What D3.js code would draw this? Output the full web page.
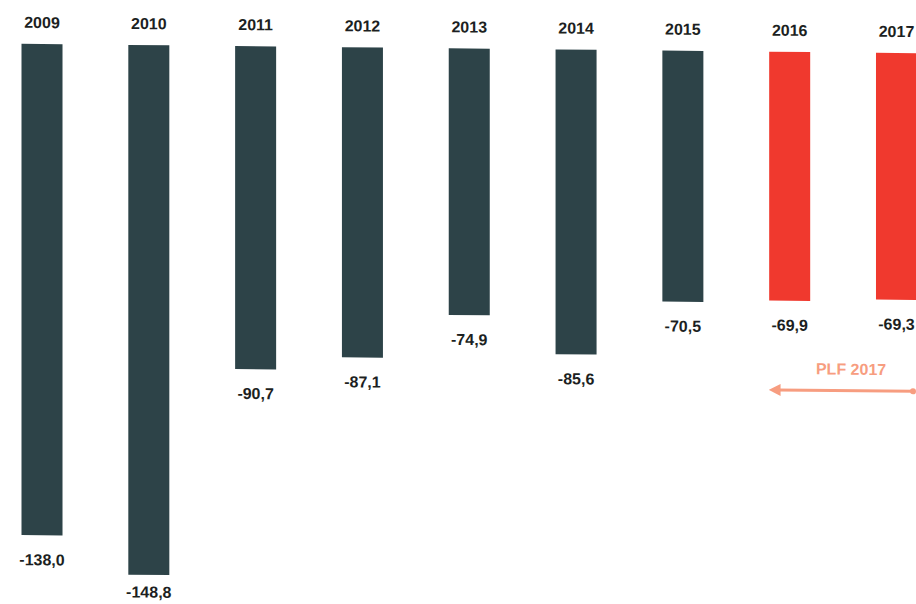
<!DOCTYPE html>
<html>
<head>
<meta charset="utf-8">
<script src="https://cdn.jsdelivr.net/npm/d3@7"></script>
<style>
  html, body { margin: 0; padding: 0; background: #ffffff; }
  svg { display: block; }
  text { font-family: "Liberation Sans", Arial, sans-serif; font-weight: bold; }
</style>
</head>
<body>
<svg id="chart" width="916" height="604"></svg>
<script>
// Solde budgétaire annuel (Md€)
const years   = ["2009", "2010", "2011", "2012", "2013", "2014", "2015", "2016", "2017"];
const values  = [-138.0, -148.8, -90.7, -87.1, -74.9, -85.6, -70.5, -69.9, -69.3];
const forecast = ["2016", "2017"];       // années couvertes par le PLF
const noteLabel = "PLF 2017";

const W = 916, H = 604;
const svg = d3.select("#chart");

// slight tilt of the whole sheet
const g = svg.append("g").attr("transform", "skewY(0.6)");

const x = d3.scaleBand()
  .domain(years)
  .range([21.5, 917])
  .paddingInner(0.616)
  .paddingOuter(0);

const y = d3.scaleLinear()
  .domain([0, -150])
  .range([43.6, 43.6 + 150 * 3.56]);

const fmt = v => d3.format(".1f")(v).replace("−", "-").replace(".", ",");
const data = years.map((yr, i) => ({ year: yr, value: values[i] }));

// bars hanging from the zero line
g.selectAll("rect.bar")
  .data(data)
  .join("rect")
  .attr("class", "bar")
  .attr("x", d => x(d.year))
  .attr("y", y(0))
  .attr("width", x.bandwidth())
  .attr("height", d => y(d.value) - y(0))
  .attr("fill", d => forecast.includes(d.year) ? "#f0392e" : "#2d4348");

// year labels above the bars
g.selectAll("text.year")
  .data(data)
  .join("text")
  .attr("class", "year")
  .attr("x", d => x(d.year) + x.bandwidth() / 2)
  .attr("y", y(0) - 16)
  .attr("text-anchor", "middle")
  .attr("font-size", 16)
  .attr("fill", "#1c1f22")
  .text(d => d.year);

// value labels under the bars, kept inside the sheet
g.selectAll("text.val")
  .data(data)
  .join("text")
  .attr("class", "val")
  .attr("x", d => x(d.year) + x.bandwidth() / 2)
  .attr("y", d => Math.min(y(d.value) + 30, H - 8))
  .attr("text-anchor", "middle")
  .attr("font-size", 16)
  .attr("fill", "#1c1f22")
  .text(d => fmt(d.value));

// PLF annotation with arrow pointing back to 2016
const noteColor = "#f79d80";
const ax0 = x(forecast[0]) + 5;
const ax1 = W - 2;
const ay = y(-95);

svg.append("defs").append("marker")
  .attr("id", "arrowhead")
  .attr("viewBox", "0 0 10 10")
  .attr("refX", 2).attr("refY", 5)
  .attr("markerWidth", 4).attr("markerHeight", 4)
  .attr("orient", "auto-start-reverse")
  .append("path")
  .attr("d", "M0,0 L10,5 L0,10 z")
  .attr("fill", noteColor);

g.append("line")
  .attr("x1", ax0 + 4).attr("x2", ax1)
  .attr("y1", ay).attr("y2", ay)
  .attr("stroke", noteColor)
  .attr("stroke-width", 3)
  .attr("marker-start", "url(#arrowhead)");

g.append("circle")
  .attr("cx", ax1 - 1).attr("cy", ay)
  .attr("r", 3)
  .attr("fill", noteColor);

g.append("text")
  .attr("x", (x(forecast[0]) + x(forecast[1]) + x.bandwidth()) / 2 + 8)
  .attr("y", ay - 16)
  .attr("text-anchor", "middle")
  .attr("font-size", 16)
  .attr("fill", noteColor)
  .text(noteLabel);
</script>
</body>
</html>
